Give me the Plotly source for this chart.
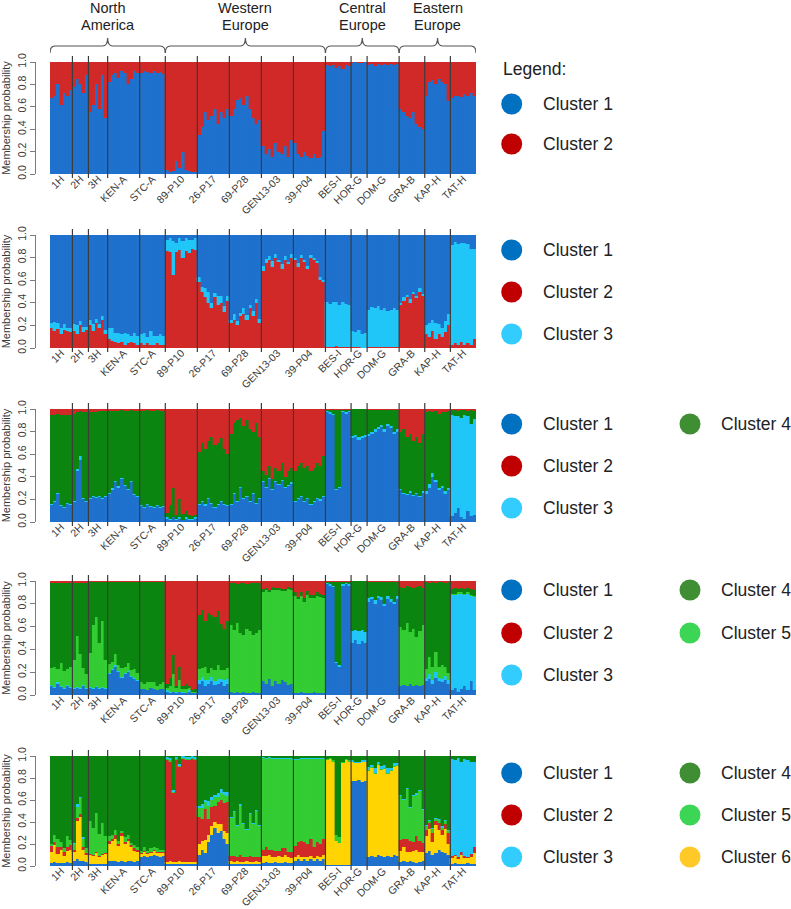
import plotly.graph_objects as go

# ---------------- data ----------------
POPS = ["1H", "2H", "3H", "KEN-A", "STC-A", "89-P10", "26-P17", "69-P28",
        "GEN13-03", "39-P04", "BES-I", "HOR-G", "DOM-G", "GRA-B", "KAP-H", "TAT-H"]
REGIONS = ["North<br>America", "Western<br>Europe", "Central<br>Europe", "Eastern<br>Europe"]
REGION_NPOPS = [5, 5, 3, 3]
CLUSTERS = ["Cluster 1", "Cluster 2", "Cluster 3", "Cluster 4", "Cluster 5", "Cluster 6"]
Y_TICKS = [0.0, 0.2, 0.4, 0.6, 0.8, 1.0]
Y_TICK_TEXT = ["0.0", "0.2", "0.4", "0.6", "0.8", "1.0"]

# membership (%) per individual, grouped by population (order of POPS)
# K = 2 : cluster 1 (bottom); cluster 2 is the rest
K2_C1 = [
    [68, 70, 80, 62, 72, 70, 75], [78, 85, 80, 72, 88], [55, 62, 80, 58, 88, 50],
    [82, 88, 90, 86, 92, 90, 80, 85, 92, 90], [90, 92, 91, 90, 92, 90, 91, 89],
    [4, 2, 3, 12, 5, 20, 4, 3, 2, 2], [35, 42, 55, 48, 52, 58, 45, 55, 50, 58],
    [52, 58, 66, 68, 62, 70, 58, 50, 45, 48], [25, 18, 22, 15, 28, 20, 18, 25, 15, 30],
    [28, 18, 15, 20, 16, 14, 18, 14, 15, 38], [97, 96, 97, 95, 96, 94, 97, 96],
    [99, 100, 99, 99, 100], [97, 98, 96, 98, 97, 98, 97, 98, 97, 98],
    [58, 55, 52, 50, 55, 45, 42, 40], [70, 82, 84, 80, 85, 82, 80, 65],
    [68, 70, 70, 69, 71, 70, 72, 70],
]
# K = 3 : cluster 2 (bottom), cluster 3, cluster 1 is the rest
K3_C2 = [
    [18, 15, 17, 12, 16, 15, 14], [15, 12, 20, 14, 16], [20, 15, 22, 18, 25, 12],
    [8, 6, 5, 4, 5, 3, 4, 5, 4, 3], [4, 3, 4, 3, 3, 4, 3, 3],
    [86, 85, 65, 85, 87, 80, 86, 84, 88, 87], [58, 50, 45, 40, 35, 45, 38, 40, 32, 42],
    [22, 25, 20, 28, 30, 25, 35, 28, 40, 22], [68, 75, 78, 72, 80, 76, 70, 78, 74, 80],
    [78, 72, 80, 76, 70, 80, 78, 75, 60, 58], [1, 1, 1, 2, 1, 1, 1, 1],
    [1, 1, 1, 0, 0], [1, 1, 1, 1, 1, 1, 1, 1, 1, 1],
    [38, 42, 45, 40, 48, 44, 50, 46], [12, 10, 15, 8, 12, 10, 14, 20],
    [3, 4, 3, 5, 3, 4, 3, 8],
]
K3_C3 = [
    [4, 8, 5, 6, 5, 3, 4], [6, 8, 4, 5, 3], [5, 6, 4, 3, 3, 4],
    [10, 12, 8, 9, 7, 10, 8, 6, 9, 8], [8, 10, 6, 12, 8, 7, 9, 8],
    [10, 12, 30, 8, 10, 15, 11, 12, 8, 10], [5, 4, 8, 10, 5, 4, 8, 6, 5, 4],
    [3, 5, 4, 3, 5, 4, 3, 5, 3, 4], [5, 4, 3, 5, 3, 2, 4, 3, 2, 3],
    [2, 3, 2, 2, 3, 2, 2, 2, 3, 2], [40, 38, 40, 39, 37, 40, 38, 37],
    [14, 13, 15, 12, 13], [33, 35, 34, 36, 33, 34, 32, 33, 34, 33],
    [2, 3, 2, 3, 2, 2, 3, 2], [8, 12, 10, 14, 9, 8, 10, 10],
    [88, 90, 89, 88, 90, 88, 85, 80],
]
# K = 4 : cluster 1, cluster 3, cluster 4 (rest), cluster 2 (top)
K4_C1 = [
    [15, 18, 25, 14, 12, 16, 15], [18, 45, 55, 20, 18], [20, 22, 21, 22, 20, 22],
    [25, 28, 35, 30, 38, 32, 28, 35, 24, 22], [14, 12, 15, 13, 12, 14, 12, 13],
    [3, 2, 4, 2, 3, 2, 3, 2, 2, 3], [15, 18, 14, 20, 16, 12, 15, 18, 15, 14],
    [15, 25, 18, 30, 20, 22, 18, 25, 16, 20], [35, 30, 38, 28, 35, 33, 36, 30, 32, 34],
    [18, 20, 22, 18, 20, 15, 18, 20, 19, 22], [97, 96, 95, 28, 30, 97, 96, 97],
    [74, 75, 73, 74, 75], [76, 78, 80, 82, 84, 80, 85, 83, 78, 80],
    [28, 25, 24, 26, 23, 25, 22, 26], [25, 30, 40, 35, 28, 30, 25, 28],
    [5, 8, 12, 4, 3, 10, 5, 6],
]
K4_C3 = [
    [1, 1, 1, 1, 1, 1, 1], [1, 2, 3, 1, 1], [1, 1, 1, 1, 1, 1],
    [1, 2, 1, 2, 1, 1, 1, 1, 1, 1], [1, 1, 1, 1, 1, 1, 1, 1],
    [1, 1, 0, 1, 1, 0, 1, 1, 1, 1], [1, 1, 2, 1, 1, 1, 1, 1, 1, 1],
    [1, 1, 1, 1, 1, 1, 1, 1, 1, 1], [1, 1, 1, 1, 1, 1, 1, 1, 1, 1],
    [1, 1, 1, 1, 1, 1, 1, 1, 1, 1], [1, 1, 1, 1, 1, 1, 1, 1],
    [2, 2, 2, 2, 2], [2, 2, 2, 2, 2, 2, 2, 2, 2, 2],
    [1, 1, 1, 1, 1, 1, 1, 1], [2, 4, 3, 2, 2, 2, 2, 2],
    [90, 86, 82, 88, 92, 84, 82, 85],
]
K4_C2 = [
    [5, 5, 4, 5, 5, 5, 5], [4, 3, 2, 3, 3], [3, 3, 3, 2, 2, 2],
    [2, 2, 2, 2, 1, 2, 2, 1, 2, 2], [2, 2, 1, 2, 2, 1, 2, 2],
    [92, 85, 70, 94, 80, 93, 90, 94, 95, 94], [38, 30, 35, 28, 25, 32, 30, 26, 35, 40],
    [22, 12, 10, 8, 15, 10, 18, 20, 12, 25], [55, 58, 50, 62, 52, 55, 48, 60, 55, 52],
    [55, 50, 48, 52, 50, 55, 52, 48, 50, 42], [1, 1, 1, 1, 1, 1, 1, 1],
    [0, 0, 0, 0, 0], [1, 1, 1, 1, 1, 1, 1, 1, 1, 1],
    [20, 18, 25, 22, 28, 25, 30, 22], [3, 2, 3, 2, 4, 3, 3, 2],
    [1, 1, 2, 1, 1, 2, 1, 2],
]
# K = 5 : cluster 1, cluster 3, cluster 5, cluster 4 (rest), cluster 2 (top)
K5_C1 = [
    [8, 6, 10, 7, 5, 8, 6], [5, 6, 5, 8, 5], [6, 5, 7, 5, 6, 5],
    [18, 22, 25, 20, 15, 18, 20, 16, 14, 12], [5, 5, 4, 6, 5, 4, 5, 5],
    [3, 2, 3, 2, 3, 2, 2, 3, 2, 2], [10, 12, 8, 10, 12, 9, 10, 11, 8, 10],
    [3, 2, 3, 2, 3, 2, 2, 3, 2, 2], [12, 10, 14, 8, 12, 10, 13, 11, 9, 10],
    [2, 2, 3, 2, 2, 2, 3, 2, 2, 2], [97, 96, 95, 28, 25, 96, 97, 96],
    [46, 48, 45, 47, 46], [82, 84, 80, 85, 83, 78, 84, 82, 80, 84],
    [8, 9, 8, 10, 8, 9, 8, 9], [12, 14, 10, 15, 12, 11, 13, 10],
    [4, 6, 3, 5, 8, 4, 12, 4],
]
K5_C3 = [
    [1, 1, 1, 1, 1, 1, 1], [1, 1, 1, 1, 1], [1, 1, 1, 1, 1, 1],
    [1, 1, 1, 1, 1, 1, 1, 1, 1, 1], [0, 0, 0, 0, 0, 0, 0, 0],
    [1, 1, 0, 1, 0, 1, 0, 1, 0, 0], [3, 4, 5, 3, 4, 3, 4, 3, 5, 4],
    [0, 0, 0, 0, 0, 0, 0, 0, 0, 0], [0, 0, 0, 0, 0, 0, 0, 0, 0, 0],
    [0, 0, 0, 0, 0, 0, 0, 0, 0, 0], [1, 1, 1, 1, 1, 1, 1, 1],
    [10, 9, 11, 10, 9], [3, 2, 3, 2, 3, 2, 3, 2, 2, 3],
    [0, 0, 0, 0, 0, 0, 0, 0], [3, 4, 3, 5, 3, 3, 4, 3],
    [84, 82, 86, 84, 80, 85, 75, 82],
]
K5_C5 = [
    [15, 18, 12, 20, 15, 14, 18], [25, 45, 30, 15, 12], [30, 55, 60, 40, 58, 25],
    [8, 6, 10, 5, 8, 6, 7, 5, 8, 6], [6, 5, 7, 5, 6, 4, 5, 6],
    [2, 5, 15, 3, 10, 2, 3, 2, 1, 1], [10, 8, 12, 6, 8, 10, 12, 8, 9, 10],
    [58, 55, 60, 52, 50, 56, 54, 50, 52, 55], [78, 82, 76, 84, 80, 82, 78, 80, 84, 82],
    [85, 82, 84, 80, 86, 83, 82, 85, 84, 83], [0, 0, 0, 0, 0, 0, 0, 0],
    [0, 0, 0, 0, 0], [0, 0, 0, 0, 0, 0, 0, 0, 0, 0],
    [52, 48, 55, 45, 50, 42, 48, 52], [8, 15, 12, 18, 10, 12, 8, 6],
    [1, 1, 1, 1, 1, 1, 1, 1],
]
K5_C2 = [
    [2, 2, 2, 2, 2, 2, 2], [2, 2, 2, 2, 2], [1, 1, 1, 1, 1, 1],
    [1, 1, 1, 1, 1, 1, 1, 1, 1, 1], [1, 1, 1, 1, 1, 1, 1, 1],
    [90, 85, 65, 92, 75, 92, 90, 92, 96, 95], [30, 25, 35, 28, 30, 32, 26, 38, 42, 35],
    [2, 2, 3, 2, 2, 3, 2, 2, 2, 2], [7, 6, 8, 5, 6, 6, 7, 7, 5, 6],
    [10, 14, 10, 15, 9, 12, 12, 10, 11, 12], [1, 1, 1, 1, 1, 1, 1, 1],
    [0, 0, 0, 0, 0], [1, 1, 1, 1, 1, 1, 1, 1, 1, 1],
    [5, 6, 4, 5, 6, 5, 4, 6], [1, 2, 1, 2, 1, 1, 2, 1],
    [7, 6, 7, 6, 7, 6, 7, 8],
]
# K = 6 : cluster 1, cluster 6, cluster 2, cluster 5, cluster 3, cluster 4 (rest, top)
K6_C1 = [
    [3, 4, 3, 3, 3, 4, 3], [5, 6, 5, 5, 4], [2, 2, 2, 2, 2, 2],
    [5, 5, 5, 4, 5, 4, 5, 5, 4, 5], [8, 9, 8, 9, 10, 9, 8, 9],
    [2, 2, 2, 2, 2, 2, 2, 2, 2, 2], [10, 15, 12, 22, 28, 35, 30, 32, 25, 20],
    [2, 2, 2, 2, 2, 2, 2, 2, 2, 2], [3, 4, 3, 3, 4, 3, 3, 4, 3, 3],
    [5, 6, 5, 6, 5, 6, 5, 6, 5, 6], [1, 1, 1, 1, 1, 1, 1, 1],
    [77, 77, 78, 76, 77], [8, 9, 8, 10, 9, 8, 9, 8, 10, 9],
    [4, 5, 4, 5, 4, 3, 4, 5], [12, 14, 10, 12, 15, 13, 12, 10],
    [2, 3, 2, 2, 2, 3, 2, 2],
]
K6_C6 = [
    [10, 15, 8, 12, 6, 10, 12], [8, 35, 40, 10, 6], [8, 7, 10, 6, 8, 9],
    [15, 18, 20, 14, 22, 16, 18, 12, 10, 8], [3, 4, 3, 3, 4, 3, 4, 3],
    [2, 3, 2, 2, 3, 2, 2, 2, 2, 2], [10, 8, 12, 6, 8, 5, 8, 6, 7, 10],
    [3, 2, 3, 2, 2, 3, 2, 2, 3, 2], [6, 5, 7, 5, 4, 6, 5, 6, 5, 4],
    [3, 4, 3, 2, 3, 3, 2, 3, 3, 4], [95, 96, 94, 22, 20, 93, 95, 94],
    [18, 17, 16, 19, 18], [78, 80, 76, 82, 78, 80, 75, 78, 80, 82],
    [10, 12, 9, 8, 10, 12, 9, 8], [15, 20, 12, 25, 18, 15, 22, 10],
    [5, 6, 4, 8, 5, 4, 6, 10],
]
K6_C2 = [
    [5, 3, 6, 2, 4, 3, 4], [2, 3, 2, 2, 2], [1, 1, 1, 1, 1, 1],
    [3, 2, 3, 2, 3, 2, 2, 2, 2, 2], [1, 1, 1, 1, 1, 1, 1, 1],
    [92, 90, 62, 92, 85, 93, 92, 92, 93, 92], [25, 20, 28, 15, 18, 15, 20, 22, 25, 28],
    [4, 5, 3, 6, 4, 3, 5, 4, 3, 4], [6, 8, 5, 7, 6, 5, 8, 6, 5, 6],
    [10, 12, 15, 14, 12, 16, 10, 13, 12, 15], [0, 0, 0, 0, 0, 0, 0, 0],
    [0, 0, 0, 0, 0], [0, 0, 0, 0, 0, 0, 0, 0, 0, 0],
    [10, 8, 12, 10, 8, 12, 10, 8], [6, 5, 8, 4, 6, 5, 4, 10],
    [2, 1, 2, 3, 2, 1, 3, 5],
]
K6_C5 = [
    [2, 6, 8, 5, 3, 10, 5], [5, 10, 15, 8, 4], [30, 25, 35, 20, 28, 15],
    [4, 3, 5, 3, 2, 4, 3, 2, 3, 2], [2, 3, 2, 3, 2, 3, 2, 2],
    [1, 1, 1, 1, 1, 1, 1, 1, 1, 1], [8, 10, 6, 12, 6, 8, 5, 6, 8, 6],
    [35, 40, 28, 45, 30, 25, 38, 30, 42, 28], [83, 80, 83, 82, 83, 83, 81, 81, 84, 84],
    [78, 74, 74, 75, 77, 72, 80, 75, 77, 72], [1, 1, 1, 5, 5, 1, 1, 1],
    [0, 0, 0, 0, 0], [1, 1, 1, 1, 1, 1, 1, 1, 1, 1],
    [40, 35, 45, 30, 42, 38, 45, 30], [3, 2, 4, 2, 3, 2, 3, 2],
    [0, 0, 0, 0, 0, 0, 0, 0],
]
K6_C3 = [
    [0, 0, 0, 0, 0, 0, 0], [1, 2, 1, 1, 0], [0, 0, 0, 0, 0, 0],
    [0, 0, 0, 0, 0, 0, 0, 0, 0, 0], [0, 0, 0, 0, 0, 0, 0, 0],
    [2, 2, 2, 2, 2, 2, 2, 2, 2, 2], [2, 3, 2, 4, 3, 2, 3, 4, 2, 3],
    [1, 1, 1, 1, 1, 1, 1, 1, 1, 1], [1, 1, 1, 1, 1, 1, 1, 1, 1, 1],
    [1, 1, 1, 1, 1, 1, 1, 1, 1, 1], [0, 0, 0, 0, 0, 0, 0, 0],
    [1, 1, 1, 1, 1], [3, 2, 4, 2, 3, 3, 4, 2, 3, 2],
    [1, 1, 1, 1, 1, 1, 1, 1], [1, 1, 1, 1, 1, 1, 1, 1],
    [88, 86, 90, 82, 88, 88, 84, 78],
]

# ---------------- style ----------------
W, H = 791, 909
FONT = "Liberation Sans, Arial, sans-serif"
BAR_COL = {1: "#1E71CC", 2: "#D12828", 3: "#20C6F8", 4: "#0B850F", 5: "#33CC33", 6: "#FFD400"}
DOT_COL = {1: "#0070C0", 2: "#C00000", 3: "#33CCFF", 4: "#3F8E33", 5: "#3DD556", 6: "#FFC928"}
REST = None

PANELS = [
    [(1, K2_C1), (2, REST)],
    [(2, K3_C2), (3, K3_C3), (1, REST)],
    [(1, K4_C1), (3, K4_C3), (4, REST), (2, K4_C2)],
    [(1, K5_C1), (3, K5_C3), (5, K5_C5), (4, REST), (2, K5_C2)],
    [(1, K6_C1), (6, K6_C6), (2, K6_C2), (5, K6_C5), (3, K6_C3), (4, REST)],
]
# panel vertical extents in px (top, bottom)
PANEL_PX = [(62, 174), (235, 348), (409, 522), (581, 695), (756, 866)]
PLOT_X_PX = (50, 476)
YAXIS_X_PX = 35
# legend rows (px y centres) per panel: list of (cluster, column, y)
LEGEND_ROWS = [
    [(1, 0, 104), (2, 0, 144)],
    [(1, 0, 250), (2, 0, 292), (3, 0, 334)],
    [(1, 0, 424), (2, 0, 466), (3, 0, 508), (4, 1, 424)],
    [(1, 0, 590), (2, 0, 633), (3, 0, 675), (4, 1, 590), (5, 1, 633)],
    [(1, 0, 773), (2, 0, 815), (3, 0, 857), (4, 1, 773), (5, 1, 815), (6, 1, 857)],
]
LEG_DOT_X = [511.7, 690]
LEG_TXT_X = [541, 719]
REGION_LINE_Y = [8, 25]


def px_x(p):
    return p / W


def px_y(p):
    return 1 - p / H


counts = [len(g) for g in K2_C1]
N = sum(counts)
bounds = [0]
for c in counts:
    bounds.append(bounds[-1] + c)
centers = [(bounds[i] + bounds[i + 1]) / 2 for i in range(len(counts))]
xpos = [i + 0.5 for i in range(N)]


def flat(groups):
    out = []
    for g in groups:
        out.extend(g)
    return out


fig = go.Figure()
shapes = []
annotations = []

for pi, spec in enumerate(PANELS):
    ax = "" if pi == 0 else str(pi + 1)
    known = [flat(v) for _, v in spec if v is not None]
    rest = [100 - sum(col[i] for col in known) for i in range(N)]
    for cl, vals in spec:
        arr = flat(vals) if vals is not None else rest
        fig.add_trace(go.Bar(
            x=xpos, y=[v / 100 for v in arr], width=1.0,
            marker=dict(color=BAR_COL[cl], line=dict(color=BAR_COL[cl], width=0.4)),
            xaxis="x" + ax, yaxis="y" + ax, showlegend=False, hoverinfo="skip"))
    top, bot = PANEL_PX[pi]
    fig.layout["xaxis" + ax] = dict(
        domain=[px_x(PLOT_X_PX[0]), px_x(PLOT_X_PX[1])], range=[0, N], anchor="y" + ax,
        tickmode="array", tickvals=centers, ticktext=POPS, tickangle=-45,
        tickfont=dict(size=10.5, color="#3a3a3a", family=FONT), ticks="",
        ticklabelstandoff=-4,
        showgrid=False, zeroline=False, showline=False, automargin=False)
    fig.layout["yaxis" + ax] = dict(
        domain=[px_y(bot), px_y(top)], range=[0, 1], anchor="free", position=px_x(YAXIS_X_PX),
        tickmode="array", tickvals=Y_TICKS, ticktext=Y_TICK_TEXT, tickangle=-90,
        ticks="outside", ticklen=5, tickcolor="#7a7a7a", showline=True, linecolor="#7a7a7a",
        linewidth=1, tickfont=dict(size=10.5, color="#3a3a3a", family=FONT),
        title=dict(text="Membership probability", font=dict(size=11, color="#3a3a3a", family=FONT),
                   standoff=3),
        showgrid=False, zeroline=False, automargin=False)
    # population separators
    for b in bounds[1:-1]:
        shapes.append(dict(type="line", xref="x" + ax, yref="paper", x0=b, x1=b,
                           y0=px_y(bot + 4), y1=px_y(top - 6),
                           line=dict(color="#3c3c3c", width=1.2)))
    # legend
    for cl, col, yc in LEGEND_ROWS[pi]:
        r = 10.5
        cx = LEG_DOT_X[col]
        shapes.append(dict(type="circle", xref="paper", yref="paper",
                           x0=px_x(cx - r), x1=px_x(cx + r), y0=px_y(yc + r), y1=px_y(yc - r),
                           fillcolor=DOT_COL[cl], line=dict(width=0)))
        annotations.append(dict(text=CLUSTERS[cl - 1], xref="paper", yref="paper",
                                x=px_x(LEG_TXT_X[col]), y=px_y(yc), xanchor="left", yanchor="middle",
                                showarrow=False, font=dict(size=17.5, color="#222222", family=FONT)))

annotations.append(dict(text="Legend:", xref="paper", yref="paper", x=px_x(501), y=px_y(69),
                        xanchor="left", yanchor="middle", showarrow=False,
                        font=dict(size=17.5, color="#222222", family=FONT)))

# region braces and labels over the first panel
pstart = 0
TIP, MID, PEAK = 53, 46, 38
for reg, npop in zip(REGIONS, REGION_NPOPS):
    x0 = bounds[pstart]
    x1 = bounds[pstart + npop]
    xc = (x0 + x1) / 2
    rr = 1.6
    yt, ym, yp = px_y(TIP), px_y(MID), px_y(PEAK)
    path = (f"M {x0},{yt} Q {x0},{ym} {x0 + rr},{ym} L {xc - rr},{ym} "
            f"Q {xc},{ym} {xc},{yp} Q {xc},{ym} {xc + rr},{ym} "
            f"L {x1 - rr},{ym} Q {x1},{ym} {x1},{yt}")
    shapes.append(dict(type="path", xref="x", yref="paper", path=path,
                       line=dict(color="#555555", width=1.2)))
    for line_txt, ly in zip(reg.split("<br>"), REGION_LINE_Y):
        annotations.append(dict(text=line_txt, xref="x", yref="paper", x=xc, y=px_y(ly),
                                xanchor="center", yanchor="middle", showarrow=False,
                                font=dict(size=14.5, color="#222222", family=FONT)))
    pstart += npop

fig.update_layout(
    width=W, height=H, margin=dict(l=0, r=0, t=0, b=0),
    paper_bgcolor="white", plot_bgcolor="white",
    barmode="stack", bargap=0, showlegend=False,
    shapes=shapes, annotations=annotations,
    font=dict(family=FONT),
)

fig.write_html("out.html", config={"displayModeBar": False},
               post_script="document.body.style.margin='0';document.body.style.overflow='hidden';")
